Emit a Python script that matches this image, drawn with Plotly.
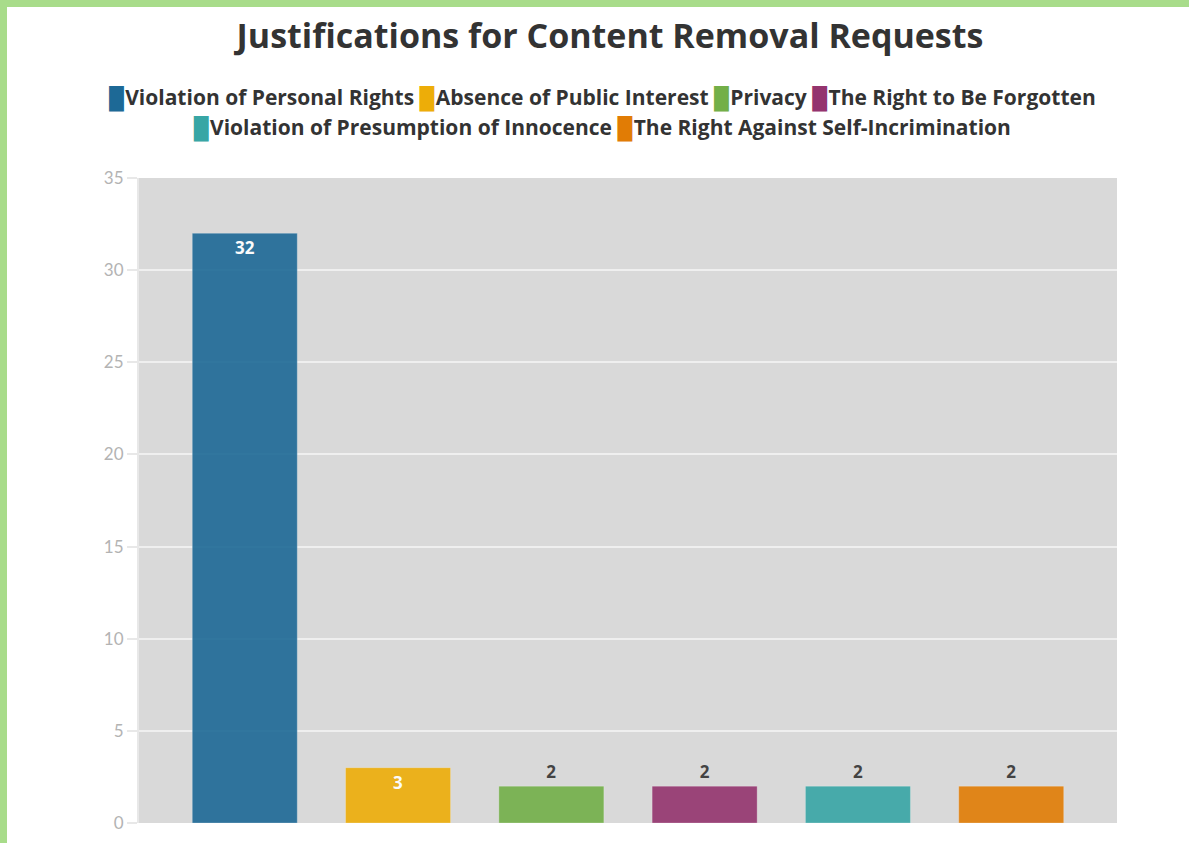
import plotly.graph_objects as go

# data
justifications = [
    "Violation of Personal Rights",
    "Absence of Public Interest",
    "Privacy",
    "The Right to Be Forgotten",
    "Violation of Presumption of Innocence",
    "The Right Against Self-Incrimination",
]
requests = [32, 3, 2, 2, 2, 2]
colors = ["#1D6996", "#EDAD08", "#73AF48", "#94346E", "#38A6A5", "#E17C05"]
legend_rows = [[0, 1, 2, 3], [4, 5]]

W, H = 1189, 843
ML, MR, MT, MB = 139, 72, 178, 20
FONT = "'Open Sans', sans-serif"
TICKFONT = "Lato, sans-serif"


def px_x(x):
    return (x - ML) / (W - ML - MR)


def px_y(y):
    return (H - MB - y) / (H - MT - MB)


fig = go.Figure()
for name, val, col in zip(justifications, requests, colors):
    fig.add_trace(go.Bar(
        x=[name], y=[val], name=name,
        marker=dict(color=col, line=dict(width=1, color="rgba(255,255,255,0.25)")),
        opacity=0.9,
        width=0.685,
        text=[str(val)],
        textposition="inside" if val >= 3 else "outside",
        insidetextanchor="end",
        textfont=dict(family=FONT, size=17, color="white" if val >= 3 else "#333333", weight="bold"),
        cliponaxis=False,
        showlegend=False,
    ))

# legend drawn as centred text rows (coloured block + label)
rows = []
for row in legend_rows:
    parts = [f"<span style='color:{colors[i]};font-size:21px'>█</span>"
             f"<span style='font-size:5px'> </span>"
             f"<span style='font-size:21px'>{justifications[i]}</span>" for i in row]
    rows.append("<span style='font-size:21px'> </span>".join(parts))

green = "#a8dc8a"
fig.update_layout(
    width=W, height=H,
    margin=dict(l=ML, r=MR, t=MT, b=MB, autoexpand=False),
    paper_bgcolor="white",
    plot_bgcolor="#d9d9d9",
    barmode="overlay",
    showlegend=False,
    font=dict(family=FONT, color="#333333"),
    title=dict(text="<b>Justifications for Content Removal Requests</b>",
               x=610 / W, xanchor="center", xref="container",
               y=1 - 36 / H, yanchor="middle",
               font=dict(size=34, color="#333333", family=FONT)),
    annotations=[dict(
        text="<br>".join(rows), showarrow=False, align="center",
        xref="paper", yref="paper", x=px_x(602), y=px_y(112),
        xanchor="center", yanchor="middle",
        font=dict(family=FONT, size=23, color="#333333", weight="bold"),
    )],
    xaxis=dict(range=[-0.69, 5.69], showticklabels=False, showgrid=False,
               zeroline=False, showline=False, fixedrange=True, automargin=False),
    yaxis=dict(range=[0, 35], dtick=5, showgrid=True, gridcolor="#efefef", gridwidth=2,
               zeroline=False, showline=True, linecolor="#e8e8e8", linewidth=2,
               ticks="outside", ticklen=10, tickwidth=2, tickcolor="#e8e8e8",
               tickfont=dict(size=17, color="#b3b3b3", family=TICKFONT), automargin=False),
    shapes=[
        dict(type="rect", xref="paper", yref="paper", layer="above",
             x0=px_x(0), x1=px_x(7), y0=px_y(H), y1=px_y(0),
             fillcolor=green, line=dict(width=0)),
        dict(type="rect", xref="paper", yref="paper", layer="above",
             x0=px_x(0), x1=px_x(W), y0=px_y(7), y1=px_y(0),
             fillcolor=green, line=dict(width=0)),
    ],
)

fig.write_html("out.html", config={"displayModeBar": False},
               post_script="document.body.style.margin='0';")
